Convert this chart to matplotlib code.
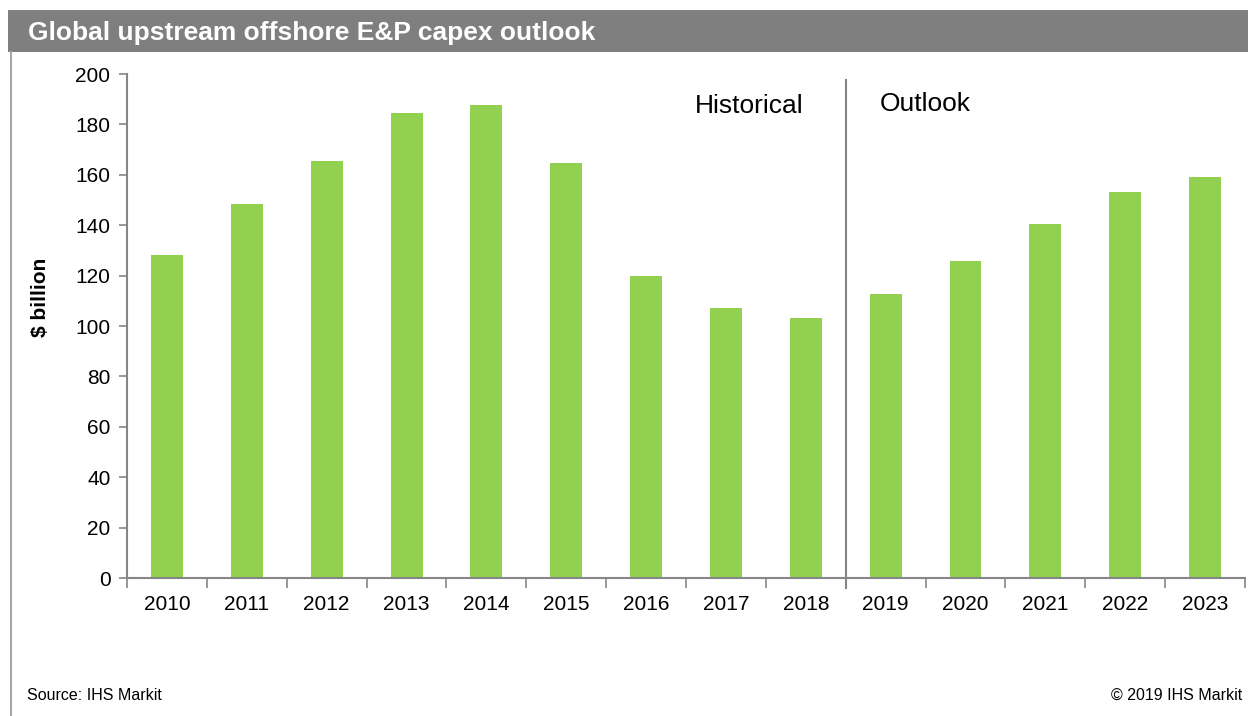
import matplotlib.pyplot as plt
import numpy as np
from matplotlib.patches import Rectangle
from matplotlib.lines import Line2D

plt.rcParams["font.family"] = ["Liberation Sans", "DejaVu Sans"]

# ---------------------------------------------------------------- data
years = ["2010", "2011", "2012", "2013", "2014", "2015", "2016",
         "2017", "2018", "2019", "2020", "2021", "2022", "2023"]
capex = [128.1, 148.4, 165.5, 184.5, 187.7, 164.8, 119.8,
         107.0, 103.2, 112.9, 125.8, 140.6, 153.3, 159.2]
first_outlook = "2019"

BAR = "#92D050"
AXIS = "#868686"
BANNER = "#7F7F7F"

W, H = 1248, 716

# ---------------------------------------------------------------- plot
fig = plt.figure(figsize=(W / 100, H / 100), dpi=100)
ax = fig.add_axes([0.1018, 0.1927, 0.8958, 0.7039])

x = np.arange(len(years))
ax.bar(x, capex, width=0.4, color=BAR, edgecolor="none", zorder=2)

ax.set_xlim(-0.5, len(years) - 0.5)
ax.set_ylim(0, 200)
ax.set_yticks(np.arange(0, 201, 20))
ax.tick_params(axis="y", direction="out", length=6, width=1.2, color=AXIS,
               labelsize=15, pad=6)

# category boundaries carry the ticks, labels sit at category centres
ax.set_xticks(np.arange(-0.5, len(years)), minor=False)
ax.set_xticklabels([])
ax.set_xticks(x, minor=True)
ax.set_xticklabels(years, minor=True)
ax.tick_params(axis="x", which="major", direction="out", length=7, width=1.2,
               color=AXIS)
ax.tick_params(axis="x", which="minor", length=0, labelsize=15, pad=12)

for side in ("top", "right"):
    ax.spines[side].set_visible(False)
for side in ("left", "bottom"):
    ax.spines[side].set_color(AXIS)
    ax.spines[side].set_linewidth(1.5)

ax.set_ylabel("$ billion", fontsize=15, fontweight="bold")
ax.yaxis.set_label_coords(-0.069, 0.556)

# historical / outlook split
split = years.index(first_outlook) - 0.5
ax.plot([split, split], [-4, 197.5], color=AXIS, linewidth=1.5,
        clip_on=False, zorder=3)
ax.text(split - 0.53, 187.5, "Historical", fontsize=19, ha="right", va="center")
ax.text(split + 0.42, 188, "Outlook", fontsize=19, ha="left", va="center")

# banner and frame
fig.patches.append(Rectangle((8 / W, 1 - 52 / H), 1 - 8 / W, 42 / H,
                             transform=fig.transFigure,
                             facecolor=BANNER, edgecolor="none"))
fig.text(28 / W, 1 - 33 / H, "Global upstream offshore E&P capex outlook",
         color="white", fontsize=19, fontweight="bold", va="center")
fig.lines.append(Line2D([11 / W, 11 / W], [0, 1 - 52 / H],
                        transform=fig.transFigure, color="#A6A6A6",
                        linewidth=1.5))

fig.text(27 / W, 1 - 695 / H, "Source: IHS Markit", fontsize=11.5,
         va="center", ha="left")
fig.text(1242 / W, 1 - 695 / H, "\u00a9 2019 IHS Markit", fontsize=11.5,
         va="center", ha="right")

fig.savefig("out.png", dpi=100)
